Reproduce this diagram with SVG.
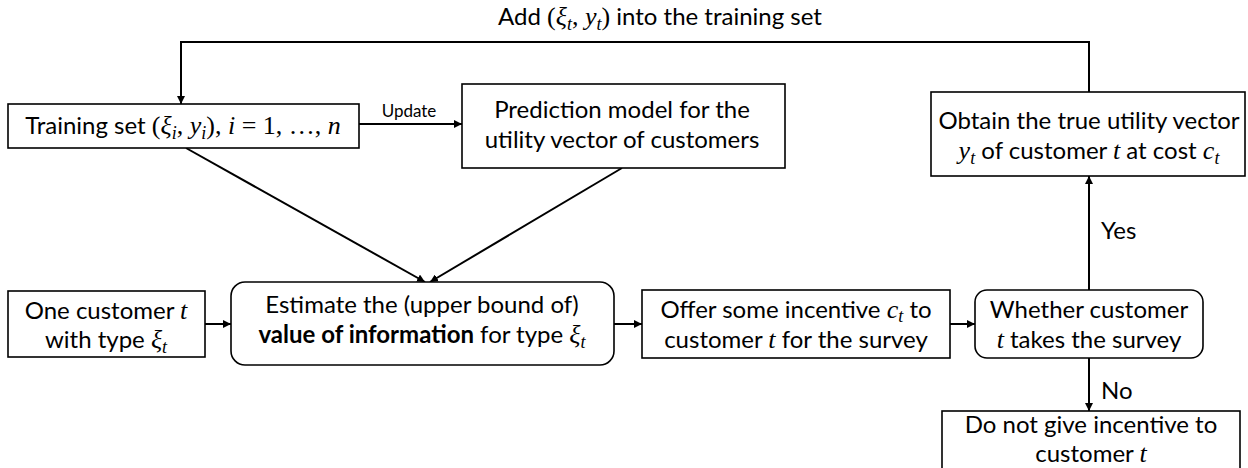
<svg xmlns="http://www.w3.org/2000/svg" width="1248" height="468" viewBox="0 0 1248 468">
<defs>
<marker id="ah" viewBox="0 0 10 10" refX="10" refY="5" markerWidth="8" markerHeight="8" markerUnits="userSpaceOnUse" orient="auto">
<path d="M0,0 L10,5 L0,10 z" fill="#000"/>
</marker>
<style>
.box{fill:#fff;stroke:#000;stroke-width:1.6}
.ln{fill:none;stroke:#000;stroke-width:2}
.t{font-family:Lato,"Liberation Sans",sans-serif;font-size:24px;fill:#000;text-anchor:middle}
.m{font-family:"Liberation Serif",serif;font-size:26px}
.i{font-style:italic}
.s{font-size:18px}
.b{font-weight:bold}
.sm{font-family:Lato,"Liberation Sans",sans-serif;font-size:17px;fill:#000;text-anchor:middle}
</style>
</defs>
<rect width="1248" height="468" fill="#fff"/>

<g id="connectors">
<polyline class="ln" points="1089,92 1089,42 181,42 181,104" marker-end="url(#ah)"/>
<line class="ln" x1="359" y1="124" x2="462" y2="124" marker-end="url(#ah)"/>
<line class="ln" x1="186" y1="148" x2="425" y2="282" marker-end="url(#ah)"/>
<line class="ln" x1="622" y1="168" x2="430" y2="282" marker-end="url(#ah)"/>
<line class="ln" x1="205" y1="324" x2="231" y2="324" marker-end="url(#ah)"/>
<line class="ln" x1="614" y1="324" x2="642" y2="324" marker-end="url(#ah)"/>
<line class="ln" x1="950" y1="324" x2="975" y2="324" marker-end="url(#ah)"/>
<line class="ln" x1="1089" y1="290" x2="1089" y2="176" marker-end="url(#ah)"/>
<line class="ln" x1="1089" y1="358" x2="1089" y2="411" marker-end="url(#ah)"/>
<text class="t" x="660" y="25">Add <tspan class="m">(</tspan><tspan class="m i">ξ</tspan><tspan class="m i s" dy="5">t</tspan><tspan class="m" dy="-5">, </tspan><tspan class="m i">y</tspan><tspan class="m i s" dy="5">t</tspan><tspan class="m" dy="-5">)</tspan> into the training set</text>
<text class="sm" x="409" y="117">Update</text>
<text class="t" x="1101" y="239" style="text-anchor:start">Yes</text>
<text class="t" x="1101" y="399" style="text-anchor:start">No</text>
</g>

<g id="training">
<rect class="box" x="8" y="104" width="351" height="44"/>
<text class="t" x="183" y="134">Training set <tspan class="m">(</tspan><tspan class="m i">ξ</tspan><tspan class="m i s" dy="5">i</tspan><tspan class="m" dy="-5">, </tspan><tspan class="m i">y</tspan><tspan class="m i s" dy="5">i</tspan><tspan class="m" dy="-5">), </tspan><tspan class="m i">i</tspan><tspan class="m"> = 1, …, </tspan><tspan class="m i">n</tspan></text>
</g>

<g id="prediction">
<rect class="box" x="462" y="84" width="323" height="84"/>
<text class="t" x="622" y="118">Prediction model for the</text>
<text class="t" x="622" y="148">utility vector of customers</text>
</g>

<g id="obtain">
<rect class="box" x="931" y="92" width="314" height="84"/>
<text class="t" x="1089" y="129">Obtain the true utility vector</text>
<text class="t" x="1089" y="159"><tspan class="m i">y</tspan><tspan class="m i s" dy="5">t</tspan><tspan dy="-5"> of customer </tspan><tspan class="m i">t</tspan> at cost <tspan class="m i">c</tspan><tspan class="m i s" dy="5">t</tspan></text>
</g>

<g id="customer">
<rect class="box" x="8" y="291" width="197" height="66"/>
<text class="t" x="106" y="319">One customer <tspan class="m i">t</tspan></text>
<text class="t" x="106" y="348">with type <tspan class="m i">ξ</tspan><tspan class="m i s" dy="5">t</tspan></text>
</g>

<g id="estimate">
<rect class="box" x="231" y="282" width="383" height="83" rx="14"/>
<text class="t" x="422" y="313">Estimate the (upper bound of)</text>
<text class="t" x="422" y="343"><tspan class="b">value of information</tspan> for type <tspan class="m i">ξ</tspan><tspan class="m i s" dy="5">t</tspan></text>
</g>

<g id="offer">
<rect class="box" x="642" y="290" width="308" height="68"/>
<text class="t" x="796" y="318">Offer some incentive <tspan class="m i">c</tspan><tspan class="m i s" dy="4">t</tspan><tspan dy="-4"> to</tspan></text>
<text class="t" x="796" y="348">customer <tspan class="m i">t</tspan> for the survey</text>
</g>

<g id="whether">
<rect class="box" x="975" y="290" width="228" height="68" rx="12"/>
<text class="t" x="1089" y="318">Whether customer</text>
<text class="t" x="1089" y="348"><tspan class="m i">t</tspan> takes the survey</text>
</g>

<g id="donot">
<rect class="box" x="942" y="411" width="298" height="66"/>
<text class="t" x="1091" y="433">Do not give incentive to</text>
<text class="t" x="1091" y="462">customer <tspan class="m i">t</tspan></text>
</g>
</svg>
